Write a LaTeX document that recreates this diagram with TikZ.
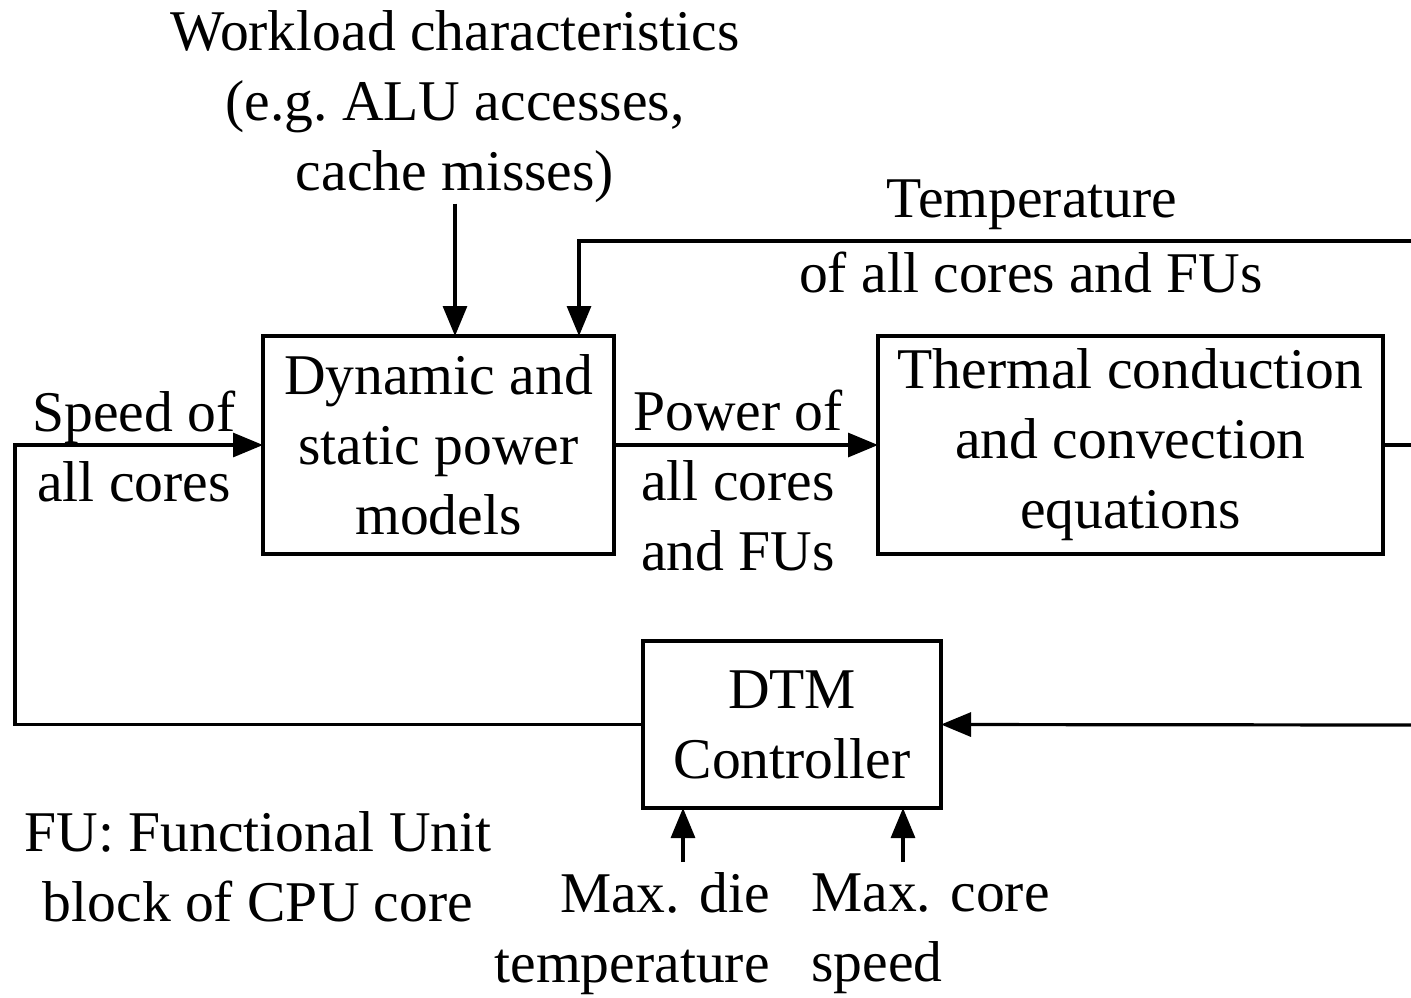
\documentclass[tikz,border=0pt]{standalone}
\usepackage{fontspec}
\setmainfont{Liberation Serif}
\usetikzlibrary{arrows.meta, positioning}

\begin{document}
\begin{tikzpicture}[
  x=0.5pt, y=-0.5pt,
  every node/.style={font=\fontsize{28.8}{35}\selectfont},
  blk/.style={draw=black, line width=2.2pt, align=center, inner sep=0pt, outer sep=0pt},
  lbl/.style={align=center, inner sep=0pt},
  wire/.style={line width=1.6pt},
  conn/.style={line width=1.6pt, -{Triangle[length=15pt, width=12pt]}}
]
  \useasboundingbox (0,0) rectangle (1411,997);
  % Blocks
  \node[blk, minimum width=175.5pt, minimum height=109pt] (Pwr) at (438.5,445) {Dynamic and\\static power\\models};
  \node[blk, minimum width=252.5pt, minimum height=109pt] (Thm) at (1130.5,445) {Thermal conduction\\and convection\\equations};
  \node[blk, minimum width=149pt, minimum height=83.5pt] (Dtm) at (792,724.5) {DTM\\Controller};
  % Labels
  \node[lbl] (Wkl) at (455,107) {Workload characteristics\\(e.g.\ ALU accesses,\\cache misses)};
  \node[lbl] (TmpA) at (1032,205) {Temperature};
  \node[lbl] (TmpB) at (1031,272) {of all cores and FUs};
  \node[lbl] (Spd) at (134,446) {Speed of\\all cores};
  \node[lbl] (PwrOut) at (738,480) {Power of\\all cores\\and FUs};
  \node[lbl] (FU) at (258,867) {FU: Functional Unit\\block of CPU core};
  \node[lbl, anchor=east, align=right] (Die) at (770,934) {Max. die\\temperature};
  \node[lbl, anchor=west, align=left] (Core) at (811,934) {Max. core\\speed};
  % Free ends
  \coordinate (Tfb) at (1411,241);
  \coordinate (Tout) at (1411,445);
  \coordinate (Tin) at (1411,725);
  \coordinate (Lcorner) at (15,445);
  \coordinate (DieIn) at (683,862);
  \coordinate (SpdIn) at (903,862);
  % Connectors
  \draw[conn] (Wkl.south) -- (Wkl.south |- Pwr.north);
  \draw[conn] (Tfb) -| ([xshift=70.25pt]Pwr.north);
  \draw[conn] (Pwr.east) -- (Thm.west);
  \draw[wire] (Thm.east) -- (Tout);
  \draw[conn] (Tin) -- (Dtm.east);
  \draw[conn] (Dtm.west) -| (Lcorner) -- (Pwr.west);
  \draw[conn] (DieIn) -- (DieIn |- Dtm.south);
  \draw[conn] (SpdIn) -- (SpdIn |- Dtm.south);
\end{tikzpicture}
\end{document}
